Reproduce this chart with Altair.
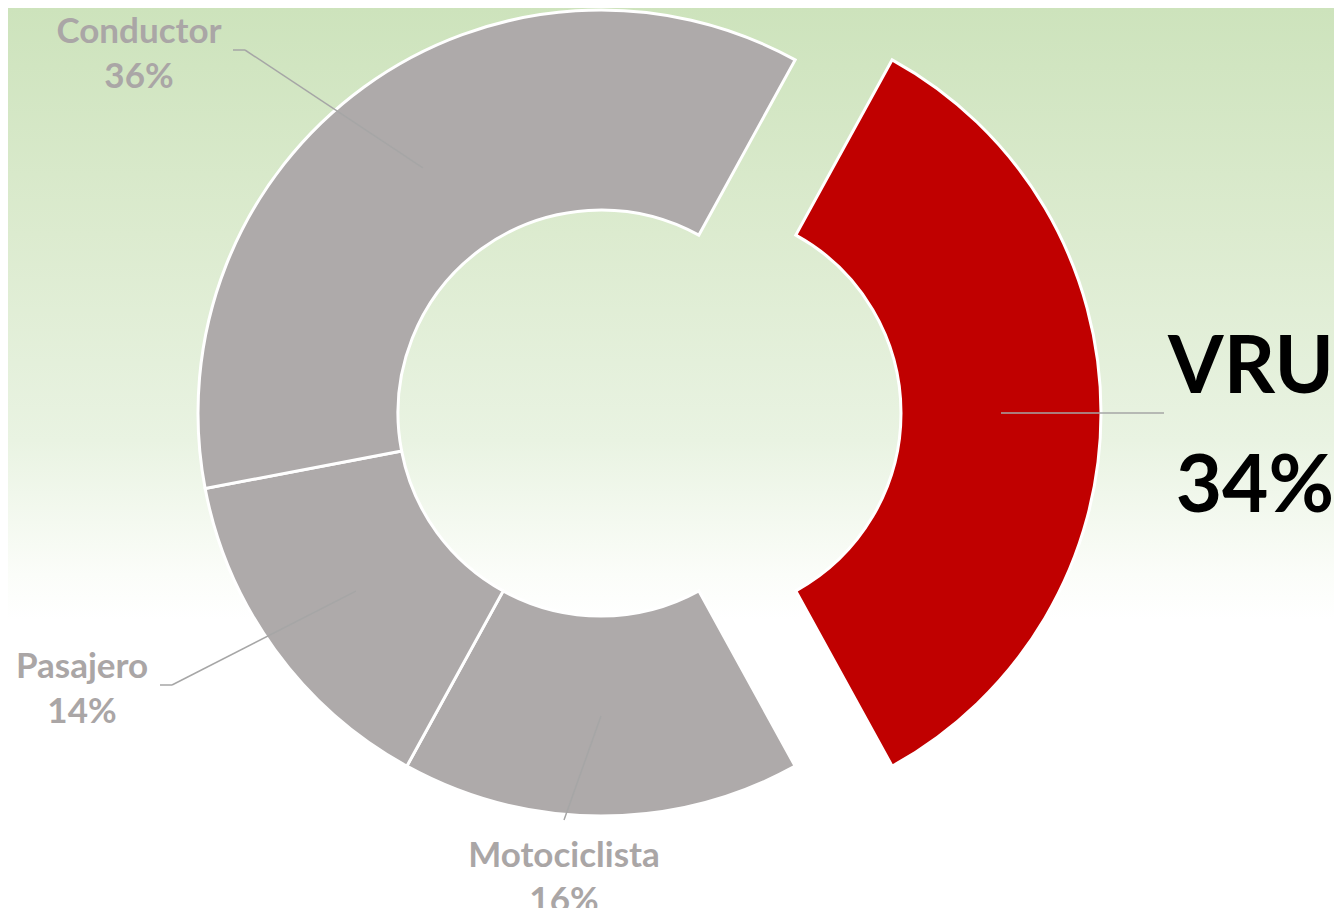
import math
import altair as alt
import pandas as pd

# ---------------- data ----------------
categories = ["VRU", "Motociclista", "Pasajero", "Conductor"]
values = [34, 16, 14, 36]
seg_colors = ["#c00000", "#aeaaaa", "#aeaaaa", "#aeaaaa"]

# ---------------- layout ----------------
W, H = 1326, 900
CX, CY = 593, 405
R_OUT, R_IN = 403, 203
EXPLODE = 97
FONT = "Lato"
GRAY_TXT = "#aaa6a6"
LINE_COL = "#a6a6a6"

# label placement (view pixels): text centre x, first baseline y, leader end point, elbow
label_layout = {
    "Conductor":    dict(tx=131, ty=35,  ex=237, ey=42,  elbow=-12),
    "Pasajero":     dict(tx=74,  ty=670, ex=164, ey=677, elbow=-12),
    "Motociclista": dict(tx=556, ty=859, ex=556, ey=812, elbow=0),
}
VRU_LAYOUT = dict(tx=W, ty=385, ty2=504, ex=1156, ey=405)

total = sum(values)
start_deg = 90 - 360 * values[0] / total / 2
a0 = math.radians(start_deg)

df = pd.DataFrame({"cat": categories, "value": values, "idx": list(range(len(categories)))})

# background gradient
bg = alt.Chart(pd.DataFrame({"a": [0]})).mark_rect(
    fill=alt.Gradient(
        gradient="linear",
        stops=[
            alt.GradientStop(color="#cde3bc", offset=0),
            alt.GradientStop(color="#dcebcf", offset=0.25),
            alt.GradientStop(color="#e9f3e2", offset=0.48),
            alt.GradientStop(color="#fbfdf9", offset=0.63),
            alt.GradientStop(color="#ffffff", offset=0.68),
            alt.GradientStop(color="#ffffff", offset=1),
        ],
        x1=0, x2=0, y1=0, y2=1,
    )
).encode(x=alt.value(0), x2=alt.value("width"), y=alt.value(0), y2=alt.value("height"))

theta = alt.Theta("value:Q", stack=True,
                  scale=alt.Scale(domain=[0, total], range=[a0, a0 + 2 * math.pi]))
color = alt.Color("cat:N", scale=alt.Scale(domain=categories, range=seg_colors), legend=None)

ring = alt.Chart(df).mark_arc(
    innerRadius=R_IN, outerRadius=R_OUT, stroke="white", strokeWidth=3
).encode(
    theta=theta, order=alt.Order("idx:Q"), color=color,
    x=alt.value(CX), y=alt.value(CY),
    opacity=alt.condition(alt.datum.cat == "VRU", alt.value(0), alt.value(1)),
)

exploded = alt.Chart(df).mark_arc(
    innerRadius=R_IN, outerRadius=R_OUT, stroke="white", strokeWidth=3
).encode(
    theta=theta, order=alt.Order("idx:Q"), color=color,
    x=alt.value(CX + EXPLODE), y=alt.value(CY),
    opacity=alt.condition(alt.datum.cat == "VRU", alt.value(1), alt.value(0)),
)

# leader lines: start at mid-ring of each slice (computed from values)
rmid = (R_OUT + R_IN) / 2
segs = []
cum = 0
for c, v in zip(categories, values):
    mid = a0 + 2 * math.pi * (cum + v / 2) / total
    cum += v
    off = EXPLODE if c == "VRU" else 0
    sx = CX + off + rmid * math.sin(mid)
    sy = CY - rmid * math.cos(mid)
    if c == "VRU":
        segs.append(dict(x=sx, y=sy, x2=VRU_LAYOUT["ex"], y2=VRU_LAYOUT["ey"]))
    else:
        L = label_layout[c]
        segs.append(dict(x=sx, y=sy, x2=L["ex"], y2=L["ey"]))
        if L["elbow"]:
            segs.append(dict(x=L["ex"], y=L["ey"], x2=L["ex"] + L["elbow"], y2=L["ey"]))
seg_df = pd.DataFrame(segs)

leaders = alt.Chart(seg_df).mark_rule(color=LINE_COL, strokeWidth=1.5).encode(
    x=alt.X("x:Q", scale=None), y=alt.Y("y:Q", scale=None),
    x2="x2:Q", y2="y2:Q",
)

rows = []
for c, v in zip(categories, values):
    if c == "VRU":
        continue
    L = label_layout[c]
    rows.append(dict(x=L["tx"], y=L["ty"], t=c))
    rows.append(dict(x=L["tx"], y=L["ty"] + 45, t=f"{v}%"))
gray_df = pd.DataFrame(rows)

gray_text = alt.Chart(gray_df).mark_text(
    font=FONT, fontSize=35, fontWeight="bold", color=GRAY_TXT, align="center", baseline="alphabetic"
).encode(x=alt.X("x:Q", scale=None), y=alt.Y("y:Q", scale=None), text="t:N")

vru_df = pd.DataFrame([
    dict(x=VRU_LAYOUT["tx"], y=VRU_LAYOUT["ty"], t=categories[0]),
    dict(x=VRU_LAYOUT["tx"], y=VRU_LAYOUT["ty2"], t=f"{values[0]}%"),
])
vru_text = alt.Chart(vru_df).mark_text(
    font=FONT, fontSize=80, fontWeight="bold", color="#000000", align="right", baseline="alphabetic"
).encode(x=alt.X("x:Q", scale=None), y=alt.Y("y:Q", scale=None), text="t:N")

chart = alt.layer(bg, ring, exploded, leaders, gray_text, vru_text).properties(
    width=W, height=H, padding=0, autosize=alt.AutoSizeParams(type="none"),
).configure_view(stroke=None).configure(background="#ffffff")

chart.save("out.html", embed_options={"renderer": "svg", "actions": False})
